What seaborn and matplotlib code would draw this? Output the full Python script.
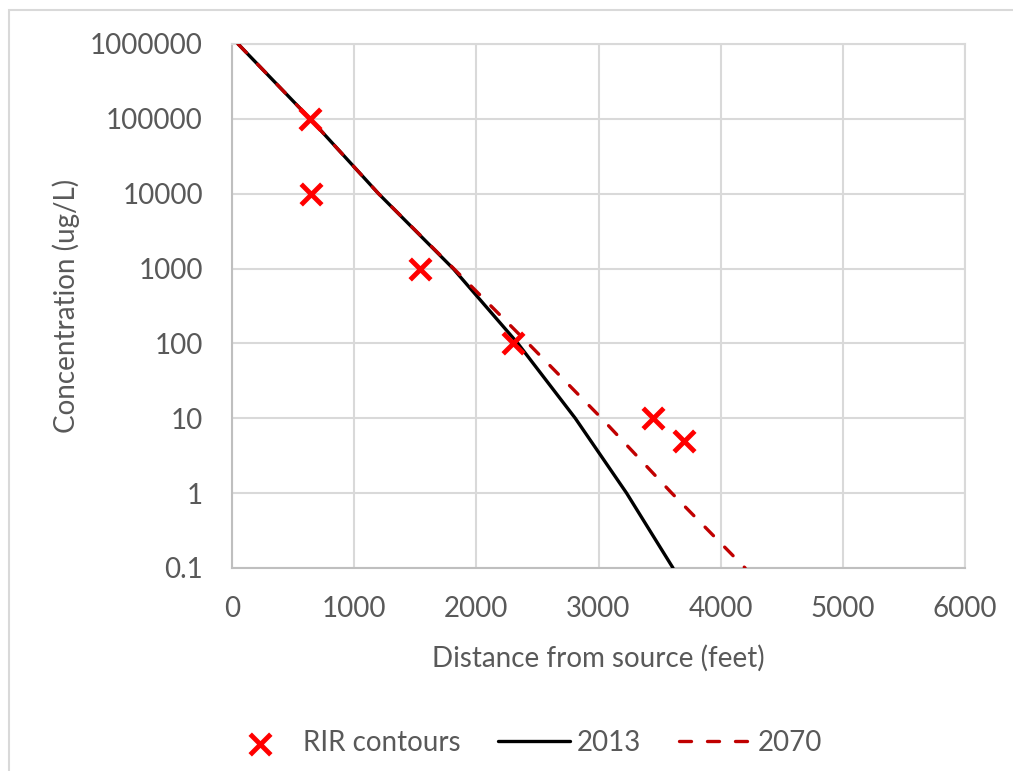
import matplotlib
matplotlib.use("Agg")
import matplotlib.pyplot as plt
from matplotlib.patches import Rectangle
import seaborn as sns
import pandas as pd

# ---- data ----
rir_x = [640, 645, 1540, 2300, 3450, 3700]
rir_y = [100000, 10000, 1000, 100, 10, 5]

x_2013 = [50, 640, 1200, 1810, 2340, 2810, 3230, 3610]
y_2013 = [1e6, 1e5, 1e4, 1e3, 100, 10, 1, 0.1]

x_2070 = [50, 640, 1200, 1815, 2425, 3025, 3600, 4200]
y_2070 = [1e6, 1e5, 1e4, 1e3, 100, 10, 1, 0.1]

x_ticks = [0, 1000, 2000, 3000, 4000, 5000, 6000]
y_ticks = [0.1, 1, 10, 100, 1000, 10000, 100000, 1000000]
y_tick_labels = ["0.1", "1", "10", "100", "1000", "10000", "100000", "1000000"]

rir = pd.DataFrame({"x": rir_x, "y": rir_y})
s2013 = pd.DataFrame({"x": x_2013, "y": y_2013})
s2070 = pd.DataFrame({"x": x_2070, "y": y_2070})

sns.set_theme(style="white")
plt.rcParams["font.family"] = ["Lato", "DejaVu Sans"]
TXT = "#595959"
GRID = "#D9D9D9"

W, H = 1013, 771
fig = plt.figure(figsize=(W / 100, H / 100), dpi=100)
ax = fig.add_axes([232 / W, 1 - 568 / H, (965 - 232) / W, (568 - 44) / H])

sns.scatterplot(data=rir, x="x", y="y", ax=ax, marker="x", s=220,
                color="#FF0000", linewidth=3.5, label="RIR contours", zorder=5)
sns.lineplot(data=s2013, x="x", y="y", ax=ax, color="black", linewidth=2.4,
             sort=False, estimator=None, label="2013", zorder=3)
sns.lineplot(data=s2070, x="x", y="y", ax=ax, color="#C00000", linewidth=2.4,
             sort=False, estimator=None, label="2070", zorder=4)
dl = ax.lines[-1]
dl.set_dashes([3.6, 4.8])
dl.set_dash_capstyle("round")

ax.set_yscale("log")
ax.set_xlim(0, 6000)
ax.set_ylim(0.1, 1e6)
ax.set_xticks(x_ticks)
ax.set_xticklabels([str(v) for v in x_ticks])
ax.set_yticks(y_ticks)
ax.set_yticklabels(y_tick_labels)
ax.minorticks_off()
ax.tick_params(axis="both", length=0, labelsize=20, labelcolor=TXT)
ax.tick_params(axis="y", pad=21)
ax.tick_params(axis="x", pad=20)

ax.grid(True, color=GRID, linewidth=1.5)
ax.set_axisbelow(True)
for side, sp in ax.spines.items():
    sp.set_visible(True)
    sp.set_color(GRID)
    sp.set_linewidth(1.5)
ax.spines["left"].set_color("#BFBFBF")
ax.spines["bottom"].set_color("#BFBFBF")

ax.set_xlabel("Distance from source (feet)", fontsize=20, color=TXT, va="center")
ax.set_ylabel("Concentration (ug/L)", fontsize=20, color=TXT, va="center")
ax.xaxis.set_label_coords(0.5, (568 - 658) / (568 - 44))
ax.yaxis.set_label_coords((66 - 232) / (965 - 232), 0.5)

leg = ax.legend(loc="center", bbox_to_anchor=(523 / W, 1 - 743 / H),
                bbox_transform=fig.transFigure, ncol=3, frameon=False,
                fontsize=20, handlelength=2.6, handletextpad=0.25,
                columnspacing=1.35)
for t in leg.get_texts():
    t.set_color(TXT)

fig.patches.append(Rectangle((9 / W, -0.05), 1.2, 1 - 10 / H + 0.05,
                             transform=fig.transFigure, fill=False,
                             edgecolor=GRID, linewidth=1.5, zorder=0))

fig.savefig("out.png", dpi=100, facecolor="white")
